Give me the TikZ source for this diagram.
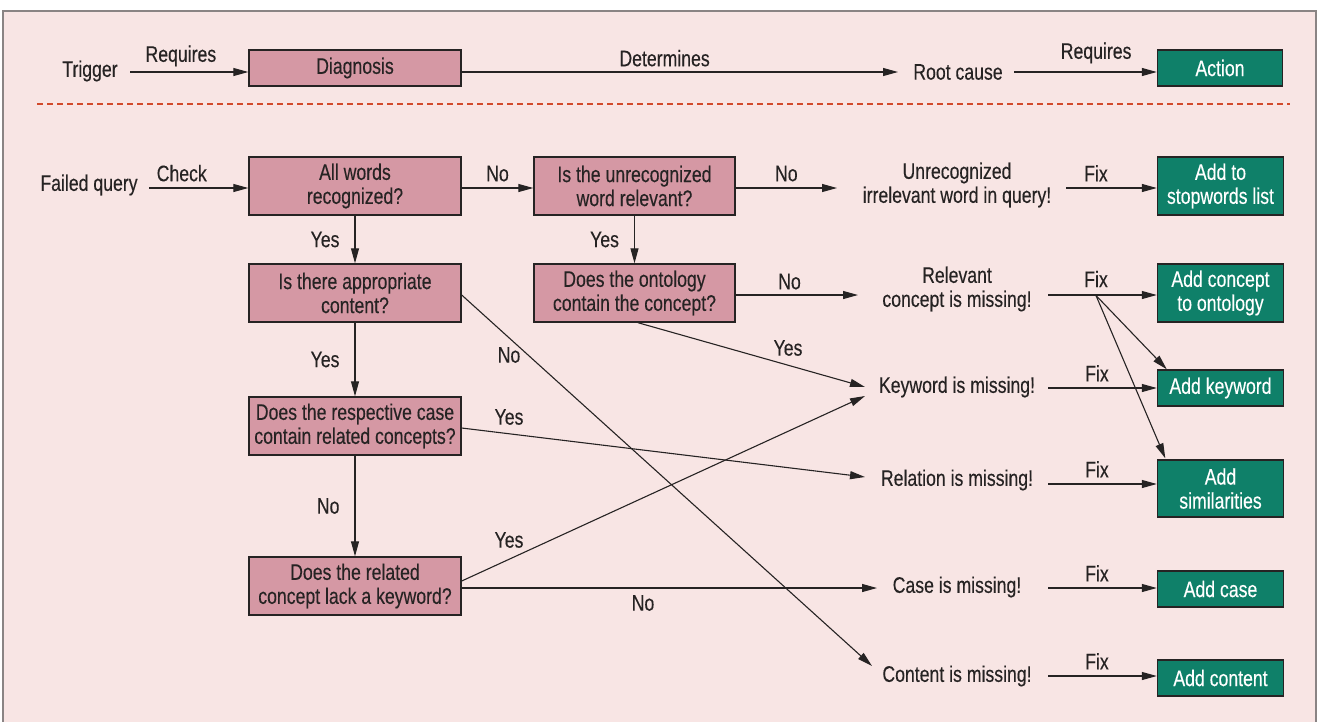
\documentclass[tikz,border=0pt]{standalone}
\usepackage{fontspec}
\setmainfont{Liberation Sans}[FakeStretch=0.785,FakeBold=0.25]
\usetikzlibrary{arrows.meta,calc}
\definecolor{bgpink}{HTML}{F8E5E4}
\definecolor{boxpink}{HTML}{D598A4}
\definecolor{boxgreen}{HTML}{0F8069}
\definecolor{ink}{HTML}{262323}
\definecolor{framegray}{HTML}{8A8484}
\definecolor{dashred}{HTML}{D24A2B}
\tikzset{
  txt/.style={font=\fontsize{22.5}{24}\selectfont, text=ink, inner sep=0pt, align=center},
  qbox/.style={txt, draw=ink, line width=1.4pt, fill=boxpink, minimum width=212pt, minimum height=58pt},
  abox/.style={txt, text=white, draw=ink, line width=1.4pt, fill=boxgreen, minimum width=126pt, minimum height=36pt},
  lbl/.style={txt},
  arr/.style={draw=ink, line width=1.1pt, -{Triangle[length=15pt,width=8pt]}},
}
\begin{document}
\begin{tikzpicture}[x=1pt,y=-1pt]
\useasboundingbox (0,0) rectangle (1319,721);
\fill[white] (0,0) rectangle (1319,721);
\filldraw[fill=bgpink, draw=framegray, line width=1.5pt] (3,11) rectangle (1316,735);
\draw[dashred, line width=2pt, dash pattern=on 6pt off 4pt] (37,104) -- (1290,104);

% top legend row
\node[lbl] (trig) at (90,71) {Trigger};
\node[qbox, minimum height=36pt] (diag) at (355,68) {Diagnosis};
\node[lbl] (root) at (958,72) {Root cause};
\node[abox, minimum width=125pt] (action) at (1220,68) {Action};
\draw[arr] ($(trig.center)+(40,1)$) -- ($(diag.west)+(0,4)$) node[lbl, pos=0.43, above=5pt] {Requires};
\draw[arr] ($(diag.east)+(0,4)$) -- ($(root.center)+(-60,0)$) node[lbl, pos=0.465, above=5pt] {Determines};
\draw[arr] ($(root.center)+(56,0)$) -- ($(action.west)+(0,4)$) node[lbl, pos=0.575, above=8pt] {Requires};

% question boxes
\node[lbl] (fq) at (89,185) {Failed query};
\node[qbox] (A) at (355,186) {All words\\recognized?};
\node[qbox, minimum width=201pt] (B) at (634.5,186) {Is the unrecognized\\word relevant?};
\node[qbox] (C) at (355,293) {Is there appropriate\\content?};
\node[qbox, minimum width=201pt] (D) at (634.5,293) {Does the ontology\\contain the concept?};
\node[qbox] (E) at (355,426) {Does the respective case\\contain related concepts?};
\node[qbox] (F) at (355,586) {Does the related\\concept lack a keyword?};

% root causes
\node[lbl] (unrec) at (957,185) {Unrecognized\\irrelevant word in query!};
\node[lbl] (relc) at (957,289) {Relevant\\concept is missing!};
\node[lbl] (kw) at (957,387) {Keyword is missing!};
\node[lbl] (rel) at (957,480) {Relation is missing!};
\node[lbl] (case) at (957,587) {Case is missing!};
\node[lbl] (cont) at (957,676) {Content is missing!};

% actions
\node[abox, minimum height=58pt] (stop) at (1220.5,186) {Add to\\stopwords list};
\node[abox, minimum height=58pt] (onto) at (1220.5,293) {Add concept\\to ontology};
\node[abox] (addkw) at (1220.5,388) {Add keyword};
\node[abox, minimum height=57pt] (sim) at (1220.5,488.5) {Add\\similarities};
\node[abox] (addcase) at (1220.5,589) {Add case};
\node[abox] (addcont) at (1220.5,678) {Add content};

% flow connectors
\draw[arr] ($(fq.center)+(60,3)$) -- ($(A.west)+(0,2)$) node[lbl, pos=0.33, above=6pt] {Check};
\draw[arr] ($(A.east)+(0,2)$) -- ($(B.west)+(0,2)$) node[lbl, midway, above=6pt] {No};
\draw[arr] ($(B.east)+(0,2)$) -- ($(unrec.center)+(-120,3)$) node[lbl, midway, above=6pt] {No};
\draw[arr] (A.south) -- (C.north) node[lbl, midway, left=15pt] {Yes};
\draw[arr] (B.south) -- (D.north) node[lbl, midway, left=15pt] {Yes};
\draw[arr] ($(D.east)+(0,2)$) -- ($(relc.center)+(-99,6)$) node[lbl, pos=0.44, above=5pt] {No};
\draw[arr] ($(D.south)+(3.5,0)$) -- ($(kw.center)+(-92,0)$);
\node[lbl] (yesD) at (788,348) {Yes};
\draw[arr] (C.south) -- (E.north) node[lbl, midway, left=15pt] {Yes};
\draw[arr] ($(C.east)+(0,2)$) -- ($(cont.center)+(-85,-10)$);
\node[lbl] (noC) at (509,355) {No};
\draw[arr] ($(E.east)+(0,2)$) -- ($(rel.center)+(-92,-3)$);
\node[lbl] (yesE) at (509,417) {Yes};
\draw[arr] (E.south) -- (F.north) node[lbl, midway, left=15pt] {No};
\draw[arr] ($(F.east)+(0,-5)$) -- ($(kw.center)+(-92,9)$);
\node[lbl] (yesF) at (509,540) {Yes};
\draw[arr] ($(F.east)+(0,2)$) -- ($(case.center)+(-80,1)$);
\node[lbl] (noF) at (643,603) {No};

% fix connectors
\draw[arr] ($(unrec.center)+(109,3)$) -- ($(stop.west)+(0,2)$) node[lbl, pos=0.33, above=6pt] {Fix};
\coordinate (fixpt) at ($(relc.center)+(139,6.5)$);
\draw[arr] ($(relc.center)+(91,6)$) -- ($(onto.west)+(0,2)$);
\node[lbl] (fixrelc) at (1096,279) {Fix};
\draw[arr] (fixpt) -- ($(addkw.north west)+(10,0)$);
\draw[arr] (fixpt) -- ($(sim.north west)+(8.5,-1)$);
\draw[arr] ($(kw.center)+(91,1)$) -- (addkw.west) node[lbl, pos=0.45, above=6pt] {Fix};
\draw[arr] ($(rel.center)+(91,4)$) -- ($(sim.west)+(0,-4.5)$) node[lbl, pos=0.45, above=6pt] {Fix};
\draw[arr] ($(case.center)+(91,1)$) -- ($(addcase.west)+(0,-1)$) node[lbl, pos=0.45, above=6pt] {Fix};
\draw[arr] (cont.center) ++(91,0) coordinate (contfix) -- ($(addcont.west)+(0,-2)$) node[lbl, pos=0.45, above=6pt] {Fix};
\end{tikzpicture}
\end{document}
